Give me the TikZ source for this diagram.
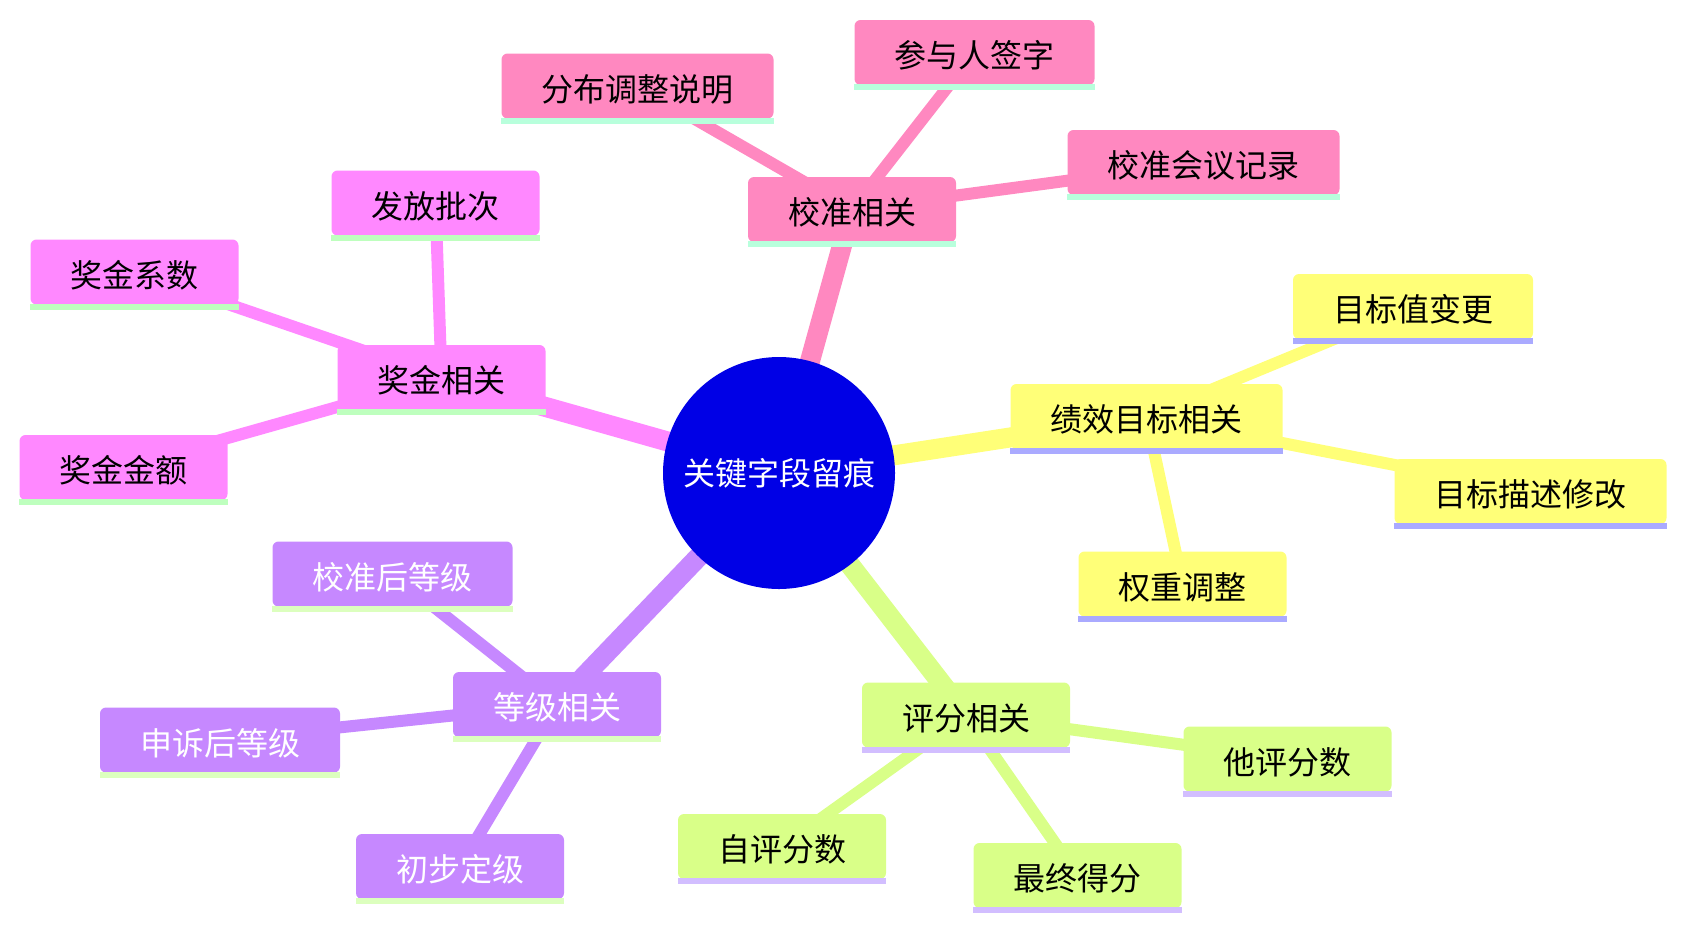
\documentclass[tikz,border=0pt]{standalone}
\usepackage{fontspec}
\newfontfamily\cjk{Noto Sans CJK SC}
\definecolor{rootblue}{RGB}{0,0,230}
\definecolor{cpink}{RGB}{255,136,192}
\definecolor{cmag}{RGB}{255,136,255}
\definecolor{cyel}{RGB}{255,255,120}
\definecolor{cgrn}{RGB}{217,255,136}
\definecolor{cpur}{RGB}{198,136,255}
\definecolor{upink}{RGB}{184,255,220}
\definecolor{umag}{RGB}{190,255,190}
\definecolor{uyel}{RGB}{170,170,255}
\definecolor{ugrn}{RGB}{210,190,255}
\definecolor{upur}{RGB}{220,255,190}
\begin{document}
\begin{tikzpicture}[x=1pt,y=-1pt,
  mm/.style={rectangle, rounded corners=6pt, minimum height=65pt, inner xsep=40pt, inner ysep=0pt,
    text height=32pt, text depth=2pt,
    font=\cjk\fontsize{32}{38}\selectfont, text=black},
  rootnode/.style={circle, fill=rootblue, minimum size=232pt, inner sep=0pt,
    font=\cjk\fontsize{32}{38}\selectfont, text=white},
  e1/.style={line width=20pt},
  e2/.style={line width=12pt},
]
\useasboundingbox (0,0) rectangle (1686,930);
% coordinates of node centres
\coordinate (pR) at (779,473);
\coordinate (pA) at (852,209.5);
\coordinate (pA1) at (637.5,86);
\coordinate (pA2) at (974.5,52.5);
\coordinate (pA3) at (1203.5,162.5);
\coordinate (pB) at (1146.5,416.5);
\coordinate (pB1) at (1413,306.5);
\coordinate (pB2) at (1530.5,491.5);
\coordinate (pB3) at (1182.5,584);
\coordinate (pC) at (966,715);
\coordinate (pC1) at (1287.5,759);
\coordinate (pC2) at (782,846.5);
\coordinate (pC3) at (1077.5,875.5);
\coordinate (pD) at (557,704.5);
\coordinate (pD1) at (392.5,574);
\coordinate (pD2) at (220,740);
\coordinate (pD3) at (460,866.5);
\coordinate (pE) at (441.5,377.5);
\coordinate (pE1) at (435.5,203);
\coordinate (pE2) at (134.5,272);
\coordinate (pE3) at (123.5,467.5);
% edges
\draw[e1,cpink] (pR) -- (pA);
\draw[e2,cpink] (pA) -- (pA1) (pA) -- (pA2) (pA) -- (pA3);
\draw[e1,cyel] (pR) -- (pB);
\draw[e2,cyel] (pB) -- (pB1) (pB) -- (pB2) (pB) -- (pB3);
\draw[e1,cgrn] (pR) -- (pC);
\draw[e2,cgrn] (pC) -- (pC1) (pC) -- (pC2) (pC) -- (pC3);
\draw[e1,cpur] (pR) -- (pD);
\draw[e2,cpur] (pD) -- (pD1) (pD) -- (pD2) (pD) -- (pD3);
\draw[e1,cmag] (pR) -- (pE);
\draw[e2,cmag] (pE) -- (pE1) (pE) -- (pE2) (pE) -- (pE3);
% nodes
\node[rootnode] (root) at (pR) {关键字段留痕};
\node[mm,fill=cpink] (A) at (pA) {校准相关};
\node[mm,fill=cpink] (A1) at (pA1) {分布调整说明};
\node[mm,fill=cpink] (A2) at (pA2) {参与人签字};
\node[mm,fill=cpink] (A3) at (pA3) {校准会议记录};
\node[mm,fill=cyel] (B) at (pB) {绩效目标相关};
\node[mm,fill=cyel] (B1) at (pB1) {目标值变更};
\node[mm,fill=cyel] (B2) at (pB2) {目标描述修改};
\node[mm,fill=cyel] (B3) at (pB3) {权重调整};
\node[mm,fill=cgrn] (C) at (pC) {评分相关};
\node[mm,fill=cgrn] (C1) at (pC1) {他评分数};
\node[mm,fill=cgrn] (C2) at (pC2) {自评分数};
\node[mm,fill=cgrn] (C3) at (pC3) {最终得分};
\node[mm,fill=cpur,text=white] (D) at (pD) {等级相关};
\node[mm,fill=cpur,text=white] (D1) at (pD1) {校准后等级};
\node[mm,fill=cpur,text=white] (D2) at (pD2) {申诉后等级};
\node[mm,fill=cpur,text=white] (D3) at (pD3) {初步定级};
\node[mm,fill=cmag] (E) at (pE) {奖金相关};
\node[mm,fill=cmag] (E1) at (pE1) {发放批次};
\node[mm,fill=cmag] (E2) at (pE2) {奖金系数};
\node[mm,fill=cmag] (E3) at (pE3) {奖金金额};
% underlines
\foreach \n/\c in {A/upink,A1/upink,A2/upink,A3/upink,B/uyel,B1/uyel,B2/uyel,B3/uyel,C/ugrn,C1/ugrn,C2/ugrn,C3/ugrn,D/upur,D1/upur,D2/upur,D3/upur,E/umag,E1/umag,E2/umag,E3/umag}
  \fill[\c] ([yshift=1pt]\n.south west) rectangle ([yshift=-5pt]\n.south east);
\end{tikzpicture}
\end{document}
